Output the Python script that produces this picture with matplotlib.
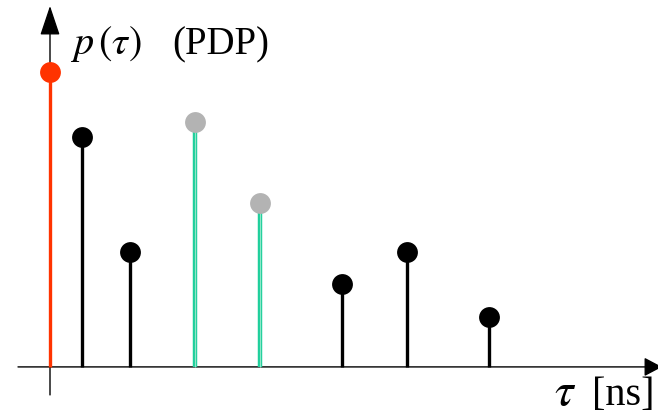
import matplotlib
matplotlib.use("Agg")
import matplotlib.pyplot as plt

# power delay profile taps
tau = [0.0, 3.2, 8.0, 14.5, 21.0, 29.2, 35.7, 43.9]      # ns
p = [1.0, 0.78, 0.39, 0.83, 0.555, 0.28, 0.39, 0.17]
kind = ["first", "tap", "tap", "hl", "hl", "tap", "tap", "tap"]

stem_col = {"first": "#ff3300", "tap": "black", "hl": "#1fcf9c"}
dot_col = {"first": "#ff3300", "tap": "black", "hl": "#b3b3b3"}

plt.rcParams["mathtext.fontset"] = "stix"

fig = plt.figure(figsize=(6.58, 4.20), dpi=100)
ax = fig.add_axes([0, 0, 1, 1])
ax.set_xlim(-5.0, 60.8)
ax.set_ylim(-0.18, 1.244)
ax.axis("off")

# axes with arrow heads
ax.annotate("", xy=(61.2, 0), xytext=(-3.2, 0), annotation_clip=False,
            arrowprops=dict(arrowstyle="-|>,head_length=1.1,head_width=0.58",
                            color="black", lw=1.0, shrinkA=0, shrinkB=0))
ax.annotate("", xy=(0, 1.224), xytext=(0, -0.095),
            arrowprops=dict(arrowstyle="-|>,head_length=1.85,head_width=0.62",
                            color="black", lw=1.0, shrinkA=0, shrinkB=0))

for t, v, k in zip(tau, p, kind):
    if k == "hl":
        ax.plot([t, t], [0, v], color=stem_col[k], lw=3.2, solid_capstyle="butt", zorder=3)
        ax.plot([t, t], [0, v], color="#8fe6c8", lw=0.8, solid_capstyle="butt", zorder=3)
    else:
        ax.plot([t, t], [0, v], color=stem_col[k], lw=2.4, solid_capstyle="butt", zorder=3)
    ax.plot(t, v, "o", color=dot_col[k], ms=15, mec="none", zorder=4)

ax.text(2.0, 1.06, r"$p\,(\tau)$", fontsize=29, ha="left", va="baseline")
ax.text(12.2, 1.06, "(PDP)", fontsize=28, family="Liberation Serif",
        ha="left", va="baseline")
ax.text(50.4, -0.128, r"$\tau$", fontsize=34, ha="left", va="baseline")
ax.text(54.2, -0.128, "[ns]", fontsize=29, family="Liberation Serif",
        ha="left", va="baseline")

fig.savefig("out.png", dpi=100)
